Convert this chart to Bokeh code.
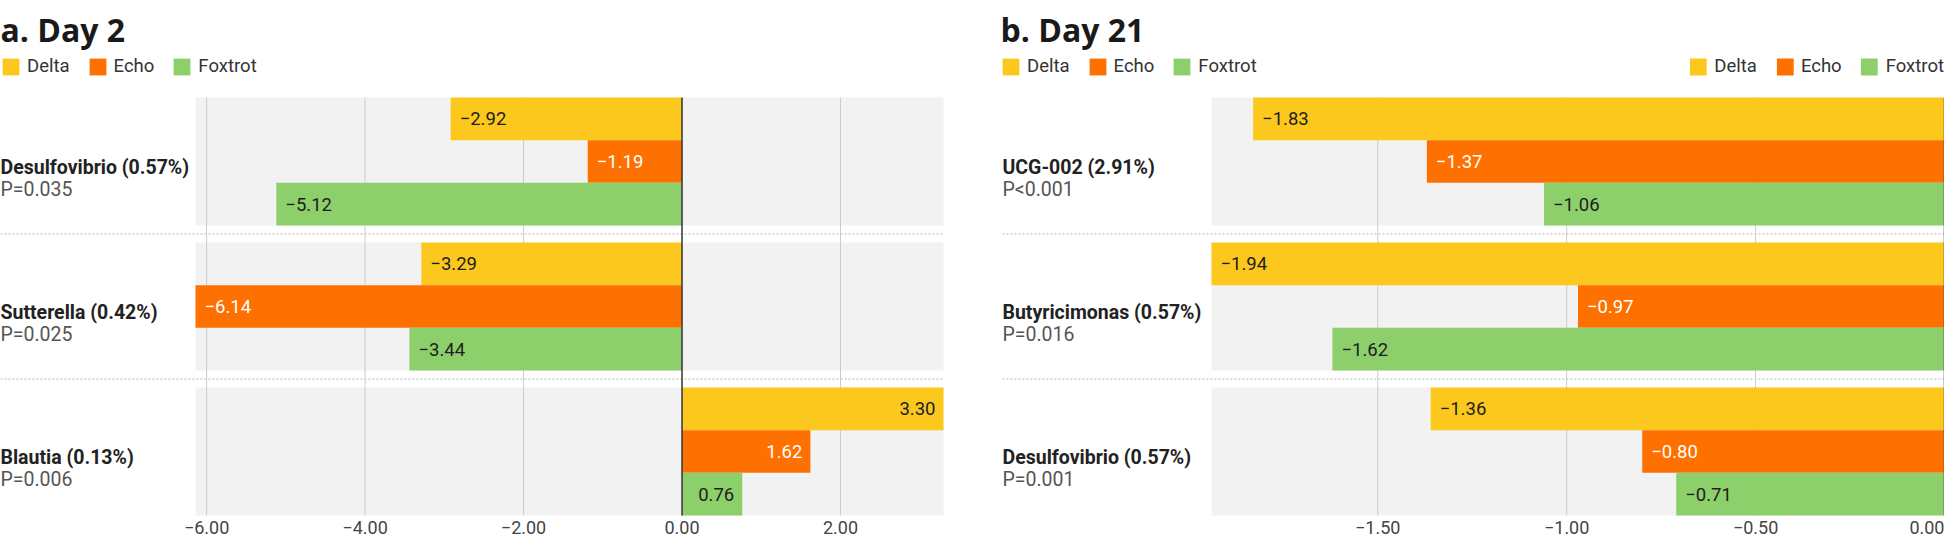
from bokeh.plotting import figure
from bokeh.models import ColumnDataSource, Range1d, FixedTicker, Legend, LegendItem
from bokeh.layouts import row
from bokeh.embed import file_html
from bokeh.resources import INLINE
from bokeh.core.properties import value, field

# ---------------- data ----------------
series_names = ["Delta", "Echo", "Foxtrot"]
series_colors = ["#FCC81E", "#FE7000", "#8DCF6A"]
label_colors = ["#1E1E1E", "#FFFFFF", "#1E1E1E"]

day2_title = "a. Day 2"
day2_groups = ["Desulfovibrio (0.57%)", "Sutterella (0.42%)", "Blautia (0.13%)"]
day2_pvals = ["P=0.035", "P=0.025", "P=0.006"]
day2_delta = [-2.92, -3.29, 3.30]
day2_echo = [-1.19, -6.14, 1.62]
day2_foxtrot = [-5.12, -3.44, 0.76]
day2_ticks = [-6.0, -4.0, -2.0, 0.0, 2.0]

day21_title = "b. Day 21"
day21_groups = ["UCG-002 (2.91%)", "Butyricimonas (0.57%)", "Desulfovibrio (0.57%)"]
day21_pvals = ["P<0.001", "P=0.016", "P=0.001"]
day21_delta = [-1.83, -1.94, -1.36]
day21_echo = [-1.37, -0.97, -0.80]
day21_foxtrot = [-1.06, -1.62, -0.71]
day21_ticks = [-1.5, -1.0, -0.5, 0.0]

# ---------------- layout / style ----------------
FONT = "Roboto"
TITLE_FONT = "Open Sans"
FRAME_H = 461
PITCH_PX = 145.0
BAND_PX = 128.0
FIRST_TOP_PX = 42.0
BG = "#F2F2F2"
AXIS_STANDOFF = 4
TXT = "18.5px"
TICK = "18px"
GRP = "19.5px"


def fmt(v):
    return f"{v:.2f}".replace("-", "\u2212")


def panel(title, groups, pvals, series, ticks, width, data_left_px, data_right_px,
          text_pad, legend_locs):
    n = len(groups)
    vals = [v for s in series for v in s]
    d0 = min(0.0, min(vals))
    d1 = max(0.0, max(vals))
    scale = (data_right_px - data_left_px) / (d1 - d0)
    x0 = d0 - data_left_px / scale
    x1 = d1 + (width - data_right_px) / scale

    band = BAND_PX / PITCH_PX
    bar_h = band / len(series)
    first_c = (FIRST_TOP_PX + BAND_PX / 2) / PITCH_PX
    y_top = -first_c
    y_bot = FRAME_H / PITCH_PX - first_c

    p = figure(frame_width=width, frame_height=FRAME_H,
               x_range=Range1d(x0, x1), y_range=Range1d(y_bot, y_top),
               toolbar_location=None, output_backend="svg",
               y_axis_location=None, min_border=0, title=title)
    p.outline_line_color = None
    p.xgrid.visible = False
    p.ygrid.visible = False

    p.title.text_font = TITLE_FONT
    p.title.text_font_size = "32px"
    p.title.text_font_style = "bold"
    p.title.text_color = "#1A1A1A"
    p.title.align = "left"
    p.title.offset = 0
    p.title.standoff = 10

    idx = list(range(n))
    # grey bands
    p.hbar(y=idx, left=d0, right=d1, height=band, fill_color=BG, line_color=None)

    # grid lines
    gticks = [t for t in ticks if t != 0]
    p.segment(x0=gticks, y0=-band / 2, x1=gticks, y1=(n - 1) + band / 2,
              line_color="#CCCCCC", line_width=1)

    # separators
    seps = [i + 0.5 for i in range(n - 1)]
    p.segment(x0=x0 + text_pad / scale, y0=seps, x1=d1, y1=seps,
              line_color="#CFCFCF", line_width=1.5, line_dash="2 2")

    renderers = []
    for k, (name, vals_k, col, tcol) in enumerate(zip(series_names, series, series_colors, label_colors)):
        ys = [i + (k - (len(series) - 1) / 2) * bar_h for i in idx]
        src = ColumnDataSource(dict(
            y=ys,
            left=[min(v, 0) for v in vals_k],
            right=[max(v, 0) for v in vals_k],
            x=vals_k,
            label=[fmt(v) for v in vals_k],
            align=["left" if v < 0 else "right" for v in vals_k],
            xoff=[9 if v < 0 else -8 for v in vals_k],
        ))
        r = p.hbar(y="y", left="left", right="right", height=bar_h,
                   fill_color=col, line_color=None, source=src)
        renderers.append(r)
        p.text(x="x", y="y", text="label", source=src,
               text_align=field("align"), x_offset=field("xoff"),
               text_baseline="middle", text_color=tcol,
               text_font=value(FONT), text_font_size=TXT)

    # zero line
    p.segment(x0=0, y0=-band / 2, x1=0, y1=(n - 1) + band / 2,
              line_color="#333333", line_width=1.5)

    # group labels
    p.text(x=x0, y=idx, text=groups, x_offset=text_pad, y_offset=6,
           text_baseline="alphabetic", text_align="left",
           text_font=value(FONT), text_font_size=GRP,
           text_font_style="bold", text_color="#222222")
    p.text(x=x0, y=idx, text=pvals, x_offset=text_pad, y_offset=28,
           text_baseline="alphabetic", text_align="left",
           text_font=value(FONT), text_font_size=GRP,
           text_color="#555555")

    # legends
    for loc in legend_locs:
        items = [LegendItem(label=nm, renderers=[r]) for nm, r in zip(series_names, renderers)]
        lg = Legend(items=items, location=loc, orientation="horizontal",
                    margin=0, padding=0, spacing=17,
                    glyph_width=21, glyph_height=21, label_standoff=6,
                    label_text_font=FONT, label_text_font_size=TXT,
                    label_text_color="#333333",
                    border_line_color=None, background_fill_alpha=0)
        p.add_layout(lg, "center")

    # x axis
    ax = p.xaxis[0]
    ax.ticker = FixedTicker(ticks=ticks)
    ax.major_label_overrides = {t: fmt(t) for t in ticks}
    ax.axis_line_color = None
    ax.major_tick_line_color = None
    ax.minor_tick_line_color = None
    ax.major_tick_out = 0
    ax.major_tick_in = 0
    ax.minor_tick_out = 0
    ax.major_label_standoff = AXIS_STANDOFF
    ax.major_label_text_font = FONT
    ax.major_label_text_font_size = TICK
    ax.major_label_text_color = "#444444"
    return p


p1 = panel(day2_title, day2_groups, day2_pvals,
           [day2_delta, day2_echo, day2_foxtrot], day2_ticks,
           width=1000, data_left_px=195, data_right_px=943, text_pad=0,
           legend_locs=["top_left"])
p2 = panel(day21_title, day21_groups, day21_pvals,
           [day21_delta, day21_echo, day21_foxtrot], day21_ticks,
           width=944, data_left_px=211, data_right_px=944, text_pad=2,
           legend_locs=["top_left", "top_right"])

layout = row(p1, p2)
open("out.html", "w").write(file_html(layout, INLINE))
